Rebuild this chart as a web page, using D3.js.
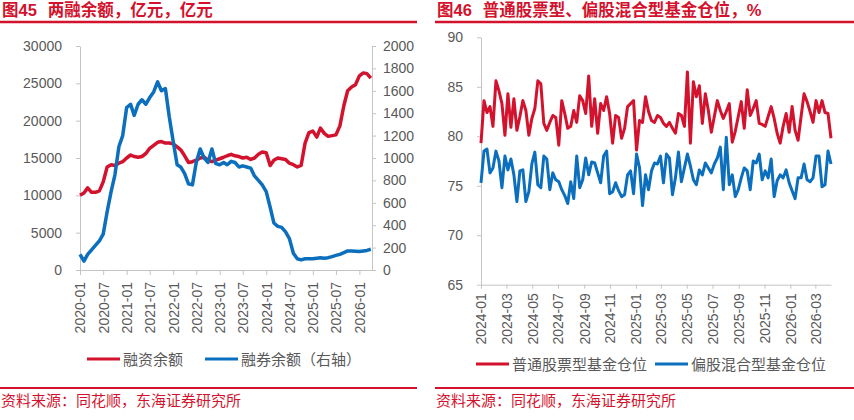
<!DOCTYPE html>
<html>
<head>
<meta charset="utf-8">
<script src="https://cdn.jsdelivr.net/npm/d3@7"></script>
<style>
  body { margin: 0; background: #fff; }
</style>
<title>两融余额 / 基金仓位</title>
</head>
<body>
<svg width="854" height="420"></svg>
<script>

  // ---- data: left panel, monthly, 亿元 ----
  var marginFirstMonth = "2020-01";
  var marginLastDay = "2026-04-10";
  var marginBalance = [
    10000, 10300, 11000, 10400, 10400, 10600, 11800, 13800, 14100, 14000, 14300, 14500,
    15000, 15400, 15200, 15100, 15200, 15600, 16300, 16700, 17100, 17200, 17000, 17000,
    16900, 16500, 16100, 15300, 14400, 14500, 14700, 15000, 15100, 14700, 14500, 14700,
    14900, 15100, 15300, 15500, 15300, 15200, 15000, 15100, 14800, 15000, 15500, 15800,
    15700, 14000, 14700, 15000, 14900, 14800, 14300, 14100, 13800, 14000, 17000, 18400,
    18600, 17800, 19000, 18300, 17900, 18000, 18100, 19300, 22000, 24000, 24500, 24800,
    26000, 26400, 26300, 25700
  ];
  var shortBalance = [
    140, 80, 140, 180, 220, 260, 320, 520, 700, 850, 1100, 1200,
    1450, 1480, 1380, 1480, 1520, 1480, 1540, 1590, 1680, 1600, 1620, 1370,
    1150, 940, 920, 860, 770, 760, 960, 1080, 1000, 960, 1080, 950,
    940, 960, 940, 970, 960, 920, 930, 920, 910, 840, 800, 760,
    700, 560, 420, 390, 380, 340, 280, 150, 100, 90, 100, 100,
    100, 105, 110, 105, 110, 120, 130, 140, 155, 170, 170, 168,
    165, 170, 175, 185
  ];
  var leftMonthLabels = ["2020-01", "2020-07", "2021-01", "2021-07", "2022-01", "2022-07", "2023-01",
    "2023-07", "2024-01", "2024-07", "2025-01", "2025-07", "2026-01"];
  var leftAxisTicks = [0, 5000, 10000, 15000, 20000, 25000, 30000];
  var rightAxisTicks = [0, 200, 400, 600, 800, 1000, 1200, 1400, 1600, 1800, 2000];
  var leftLegend = ["融资余额", "融券余额（右轴）"];

  // ---- data: right panel, weekly, % ----
  var fundFirstDay = "2024-01-01";
  var fundLastDay = "2026-04-07";
  var stockFund = [
    79.3, 83.6, 82.4, 83.0, 81.0, 85.6, 84.6, 83.3, 80.1, 84.3,
    80.9, 83.8, 80.6, 82.0, 83.6, 82.6, 80.1, 81.8, 82.8, 85.6,
    85.3, 81.3, 80.6, 81.4, 82.1, 81.9, 79.1, 83.6, 82.3, 80.8,
    81.0, 82.6, 81.4, 84.1, 83.6, 82.3, 86.1, 81.0, 83.8, 80.3,
    83.3, 82.6, 84.0, 82.3, 79.3, 82.1, 81.9, 79.8, 80.8, 83.0,
    83.3, 83.6, 78.6, 81.6, 81.4, 84.0, 82.5, 81.6, 81.4, 82.1,
    81.9, 81.3, 81.0, 81.4, 80.8, 80.3, 82.3, 82.1, 81.0, 86.5,
    79.3, 85.5, 84.0, 85.1, 81.3, 84.3, 82.6, 80.4, 82.0, 83.6,
    82.6, 81.8, 82.5, 83.3, 79.4, 80.5, 82.0, 83.5, 80.8, 84.7,
    82.1, 82.8, 83.6, 81.3, 81.2, 81.0, 82.0, 83.0, 81.8, 80.3,
    79.3, 81.0, 82.3, 80.4, 83.0, 80.6, 79.6, 82.0, 84.3, 83.5,
    82.5, 81.4, 83.6, 82.4, 83.6, 82.4, 82.3, 79.8
  ];
  var mixedFund = [
    75.3, 78.5, 78.7, 76.3, 76.8, 78.5, 77.5, 74.8, 78.0, 76.6,
    77.7, 76.1, 73.4, 76.5, 76.6, 73.4, 74.4, 77.2, 78.4, 75.1,
    74.8, 78.0, 77.7, 74.6, 76.3, 75.6, 75.4, 74.6, 74.0, 73.2,
    75.4, 73.7, 78.0, 74.8, 75.6, 77.8, 76.1, 77.4, 77.3, 76.3,
    75.3, 78.0, 78.5, 74.2, 74.4, 75.3, 74.5, 73.9, 74.1, 76.1,
    76.5, 74.2, 78.2, 76.8, 73.0, 76.1, 74.6, 76.5, 77.3, 77.2,
    78.0, 75.3, 78.2, 77.8, 74.1, 75.8, 78.4, 75.4, 76.8, 78.2,
    77.0, 75.6, 75.1, 76.6, 76.1, 77.3, 76.8, 76.3, 77.2, 77.8,
    78.9, 74.6, 79.9, 75.1, 76.1, 73.9, 74.6, 75.8, 76.8, 76.5,
    74.6, 77.5, 77.3, 78.2, 75.6, 76.5, 75.8, 77.7, 73.9, 75.5,
    76.1, 75.8, 76.6, 75.3, 74.5, 73.7, 75.8, 75.8, 77.2, 75.6,
    75.4, 75.8, 78.0, 78.0, 74.9, 75.1, 78.5, 77.2
  ];
  var fundMonthLabels = ["2024-01", "2024-03", "2024-05", "2024-07", "2024-09", "2024-11", "2025-01",
    "2025-03", "2025-05", "2025-07", "2025-09", "2025-11", "2026-01", "2026-03"];
  var fundAxisTicks = [65, 70, 75, 80, 85, 90];
  var fundLegend = ["普通股票型基金仓位", "偏股混合型基金仓位"];

  var titles = ["两融余额，亿元，亿元", "普通股票型、偏股混合型基金仓位，%"];
  var source = "资料来源：同花顺，东海证券研究所";

  // ---- look ----
  var red = "#d3122d";
  var blue = "#0b6fbd";
  var textGrey = "#595959";
  var axisGrey = "#c4c4c4";
  var font = "'Liberation Sans', Arial, 'Noto Sans CJK SC', sans-serif";

  var parseMonth = d3.timeParse( "%Y-%m" );
  var parseDay = d3.timeParse( "%Y-%m-%d" );
  var formatMonth = d3.timeFormat( "%Y-%m" );
  var plain = d3.format( "d" );

  var svg = d3.select( "svg" ).attr( "font-family", font );

  // header / footer for a panel
  function frame( x0, x1, num, title )
  {
    var t = svg.append( "text" )
        .attr( "x", x0 + 2 )
        .attr( "y", 16 )
        .attr( "fill", red )
        .attr( "font-size", 16.5 )
        .attr( "font-weight", "bold" );
    t.append( "tspan" ).text( "图" + num );
    t.append( "tspan" ).attr( "dx", 11 ).text( title );

    svg.append( "line" )
        .attr( "x1", x0 ).attr( "x2", x1 )
        .attr( "y1", 22 ).attr( "y2", 22 )
        .attr( "stroke", red ).attr( "stroke-width", 2.5 );

    svg.append( "line" )
        .attr( "x1", x0 ).attr( "x2", x1 )
        .attr( "y1", 388 ).attr( "y2", 388 )
        .attr( "stroke", red ).attr( "stroke-width", 2 );

    svg.append( "text" )
        .attr( "x", x0 + 1 )
        .attr( "y", 406 )
        .attr( "fill", red )
        .attr( "font-size", 15 )
        .text( source );
  }

  function styleAxis( g )
  {
    g.attr( "font-family", font ).attr( "font-size", 14 );
    g.select( ".domain" ).attr( "stroke", axisGrey );
    g.selectAll( ".tick line" ).attr( "stroke", axisGrey );
    g.selectAll( ".tick text" ).attr( "fill", textGrey );
  }

  function rotateLabels( g, gap )
  {
    g.selectAll( ".tick text" )
        .attr( "transform", "rotate(-90)" )
        .attr( "x", -gap )
        .attr( "y", 0 )
        .attr( "dy", "0.35em" )
        .style( "text-anchor", "end" );
  }

  function legendItem( x, y, color, label )
  {
    svg.append( "line" )
        .attr( "x1", x ).attr( "x2", x + 33 )
        .attr( "y1", y ).attr( "y2", y )
        .attr( "stroke", color ).attr( "stroke-width", 3 );
    svg.append( "text" )
        .attr( "x", x + 36 )
        .attr( "y", y + 5.5 )
        .attr( "fill", textGrey )
        .attr( "font-size", 15 )
        .text( label );
  }

  frame( 0, 417, "45", titles[0] );
  frame( 435, 854, "46", titles[1] );

  // ---- left panel ----
  var marginStart = parseMonth( marginFirstMonth );
  var marginDates = marginBalance.map( function ( v, i )
  {
    return d3.timeMonth.offset( marginStart, i );
  } );

  var xL = d3.scaleTime().domain( [marginStart, parseDay( marginLastDay )] ).range( [80, 372] );
  var yL = d3.scaleLinear().domain( [0, 30000] ).range( [270, 46] );
  var yR = d3.scaleLinear().domain( [0, 2000] ).range( [270, 46] );

  svg.append( "g" )
      .attr( "transform", "translate(80,0)" )
      .call( d3.axisLeft( yL ).tickValues( leftAxisTicks ).tickFormat( plain )
          .tickSize( 4 ).tickPadding( 14 ).tickSizeOuter( 0 ) )
      .call( styleAxis );

  svg.append( "g" )
      .attr( "transform", "translate(372,0)" )
      .call( d3.axisRight( yR ).tickValues( rightAxisTicks ).tickFormat( plain )
          .tickSize( 4 ).tickPadding( 7 ).tickSizeOuter( 0 ) )
      .call( styleAxis );

  svg.append( "g" )
      .attr( "transform", "translate(0,270)" )
      .call( d3.axisBottom( xL ).tickValues( leftMonthLabels.map( parseMonth ) ).tickFormat( formatMonth )
          .tickSize( 5 ).tickSizeOuter( 0 ) )
      .call( styleAxis )
      .call( rotateLabels, 12 );

  var marginLine = d3.line()
      .x( function ( d, i ) { return xL( marginDates[i] ); } )
      .y( function ( d ) { return yL( d ); } );

  var shortLine = d3.line()
      .x( function ( d, i ) { return xL( marginDates[i] ); } )
      .y( function ( d ) { return yR( d ); } );

  svg.append( "path" )
      .attr( "d", marginLine( marginBalance ) )
      .attr( "fill", "none" ).attr( "stroke", red )
      .attr( "stroke-width", 3.5 ).attr( "stroke-linejoin", "round" );

  svg.append( "path" )
      .attr( "d", shortLine( shortBalance ) )
      .attr( "fill", "none" ).attr( "stroke", blue )
      .attr( "stroke-width", 3.5 ).attr( "stroke-linejoin", "round" );

  legendItem( 87, 359, red, leftLegend[0] );
  legendItem( 205, 359, blue, leftLegend[1] );

  // ---- right panel ----
  var fundStart = parseDay( fundFirstDay );
  var fundEnd = parseDay( fundLastDay );

  var xF = d3.scaleTime().domain( [fundStart, fundEnd] ).range( [481, 831] );
  var yF = d3.scaleLinear().domain( [65, 90] ).range( [284.7, 37.3] );

  svg.append( "g" )
      .attr( "transform", "translate(481,0)" )
      .call( d3.axisLeft( yF ).tickValues( fundAxisTicks ).tickSize( 4 ).tickPadding( 14 ).tickSizeOuter( 0 ) )
      .call( styleAxis );

  svg.append( "g" )
      .attr( "transform", "translate(0,284.7)" )
      .call( d3.axisBottom( xF ).tickValues( fundMonthLabels.map( parseMonth ) ).tickFormat( formatMonth )
          .tickSize( 4 ).tickSizeOuter( 0 ) )
      .call( styleAxis )
      .call( rotateLabels, 8.5 );

  function fundLine( values )
  {
    // weekly observations spread over the reporting window
    var when = d3.scaleLinear().domain( [0, values.length - 1] ).range( [fundStart, fundEnd] );
    return d3.line()
        .x( function ( d, i ) { return xF( when( i ) ); } )
        .y( function ( d ) { return yF( d ); } )( values );
  }

  svg.append( "path" )
      .attr( "d", fundLine( stockFund ) )
      .attr( "fill", "none" ).attr( "stroke", red )
      .attr( "stroke-width", 3 ).attr( "stroke-linejoin", "round" );

  svg.append( "path" )
      .attr( "d", fundLine( mixedFund ) )
      .attr( "fill", "none" ).attr( "stroke", blue )
      .attr( "stroke-width", 3 ).attr( "stroke-linejoin", "round" );

  legendItem( 476, 364, red, fundLegend[0] );
  legendItem( 655, 364, blue, fundLegend[1] );

</script>
</body>
</html>
